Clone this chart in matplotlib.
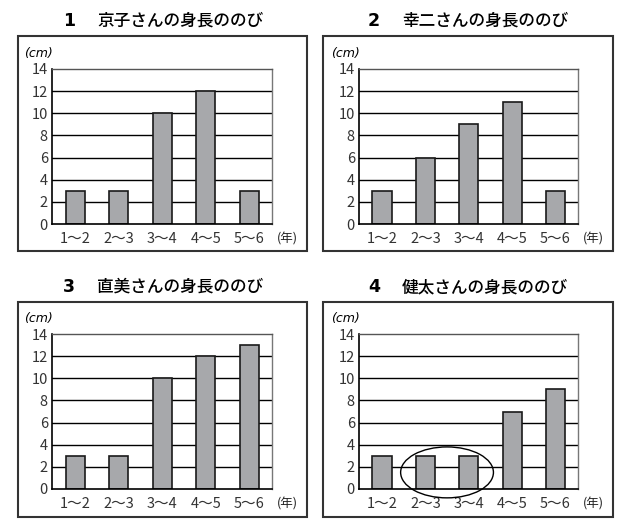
import matplotlib.pyplot as plt
from matplotlib.patches import Ellipse, Rectangle

plt.rcParams['font.family'] = ['Noto Sans CJK JP', 'DejaVu Sans']

# data
years = ['1〜2', '2〜3', '3〜4', '4〜5', '5〜6']
names = ['京子', '幸二', '直美', '健太']
kyoko = [3, 3, 10, 12, 3]
koji = [3, 6, 9, 11, 3]
naomi = [3, 3, 10, 12, 13]
kenta = [3, 3, 3, 7, 9]
growth = [kyoko, koji, naomi, kenta]

W, H = 625, 527
fig = plt.figure(figsize=(W / 100, H / 100), dpi=100)

# pixel layout: (axes L, R, T, B), (box L, R, T, B), title y
panels = [
    ((52, 272, 69, 224), (18, 307, 36, 251), 21),
    ((359, 578, 69, 224), (323, 613, 36, 251), 21),
    ((52, 272, 334, 489), (18, 307, 302, 517), 287),
    ((359, 578, 334, 489), (323, 613, 302, 517), 287),
]


def fx(px):
    return px / W


def fy(py):
    return 1 - py / H


for i, (vals, name, (ax_px, box_px, ty)) in enumerate(zip(growth, names, panels)):
    L, R, T, B = ax_px
    ax = fig.add_axes([fx(L), fy(B), fx(R - L), (B - T) / H])

    # outer frame
    bl, br, bt, bb = box_px
    fig.add_artist(Rectangle((fx(bl), fy(bb)), fx(br - bl), (bb - bt) / H,
                             transform=fig.transFigure, fill=False,
                             ec='#333333', lw=1.5))

    # title
    fig.text(fx(bl + 51), fy(ty), str(i + 1), ha='center', va='center',
             fontsize=12.5, fontweight='bold', family=['DejaVu Sans'])
    fig.text(fx(bl + 79), fy(ty), name + 'さんの身長ののび', ha='left',
             va='center', fontsize=12, fontweight='medium')

    x = range(len(years))
    for yv in range(2, 13, 2):
        ax.axhline(yv, color='black', lw=1.0, zorder=1)
    ax.bar(x, vals, width=0.44, color='#a7a8ab', edgecolor='#1a1a1a',
           lw=1.2, zorder=2)

    ax.set_xlim(-0.53, 4.52)
    ax.set_ylim(0, 14)
    ax.set_yticks(range(0, 15, 2))
    ax.set_xticks(list(x))
    ax.set_xticklabels(years)
    ax.tick_params(length=0, labelsize=10.5, colors='#333333')
    ax.tick_params(axis='y', pad=3)
    ax.tick_params(axis='x', pad=6)

    ax.spines['left'].set_color('black')
    ax.spines['left'].set_linewidth(1.2)
    ax.spines['bottom'].set_color('black')
    ax.spines['bottom'].set_linewidth(1.2)
    ax.spines['top'].set_color('#555555')
    ax.spines['top'].set_linewidth(1.0)
    ax.spines['right'].set_color('#777777')
    ax.spines['right'].set_linewidth(1.0)

    ax.text(-0.06, 1.1, '(cm)', transform=ax.transAxes, ha='center',
            va='center', fontsize=9, style='italic', family=['DejaVu Sans'])
    ax.text(1.02, -0.098, '(年)', transform=ax.transAxes, ha='left',
            va='center', fontsize=9, color='#222222')

    if i == 3:
        ax.add_patch(Ellipse((1.5, 1.5), 2.14, 4.6, fill=False,
                             ec='black', lw=1.0, clip_on=False, zorder=3))

fig.savefig('out.png', dpi=100)
